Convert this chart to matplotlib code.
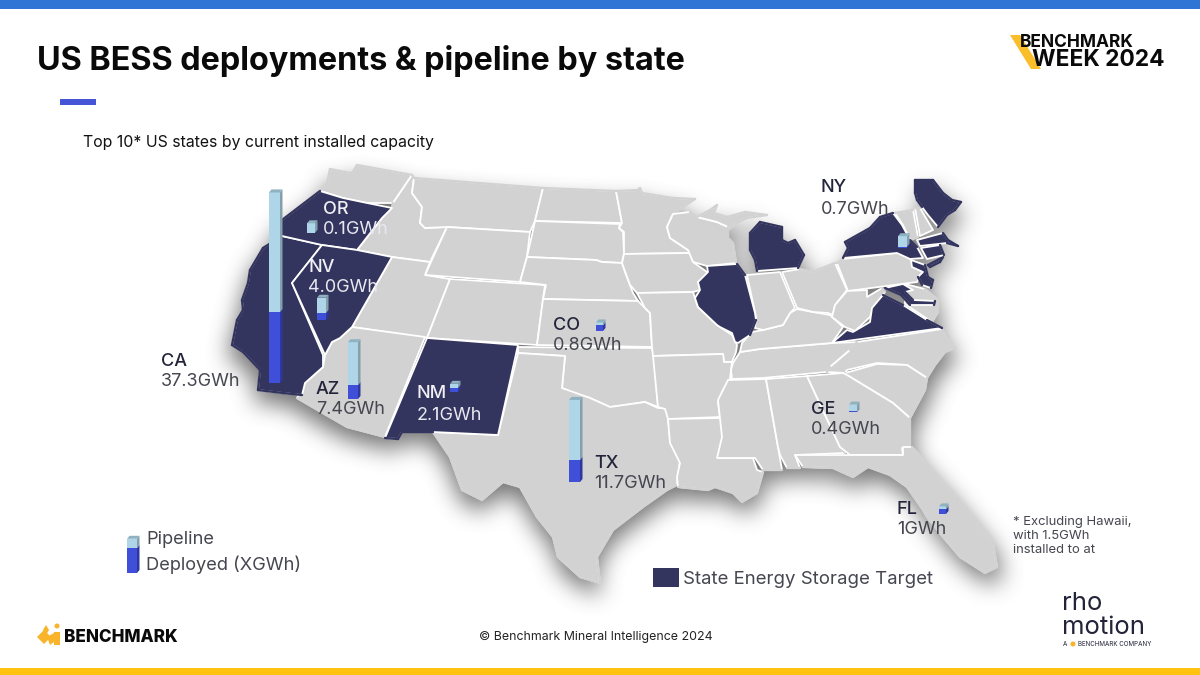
#!/usr/bin/env python3
"""US BESS deployments & pipeline by state: slide with traced map and pseudo-3D bars."""
import numpy as np
import matplotlib
matplotlib.use("Agg")
import matplotlib.pyplot as plt
from matplotlib.patches import Polygon, Rectangle, Circle
from matplotlib.path import Path

plt.rcParams["font.family"] = ["Inter", "DejaVu Sans"]

# values (GWh as drawn, tiny bars are not quite to scale in the source)
STATES = ["CA", "OR", "NV", "AZ", "NM", "CO", "TX", "NY", "GE", "FL"]
VALUE_LABELS = ["37.3GWh", "0.1GWh", "4.0GWh", "7.4GWh", "2.1GWh",
                "0.8GWh", "11.7GWh", "0.7GWh", "0.4GWh", "1GWh"]
DEPLOYED = [37.3, 0.1, 3.7, 7.4, 2.1, 3.0, 11.7, 0.7, 0.4, 2.5]
PIPELINE = [63.0, 5.0, 8.0, 22.5, 2.2, 1.5, 31.5, 5.5, 3.5, 1.5]
LEGEND_DEPLOYED = [13.2]
LEGEND_PIPELINE = [4.8]

# layout, in slide pixels
BAR_LEFT = [269, 307, 317, 348, 450, 596, 569, 898, 849, 939]
BAR_BASE = [383, 233, 320, 399, 392, 331, 482, 248, 412, 514]
BAR_WIDTH = [11, 8, 9, 10, 8, 7, 11, 9, 8, 7]
LABEL_X = [161, 323, 308, 316, 417, 553, 594, 821, 811, 897]
LABEL_Y = [361, 209, 267, 389, 394, 325, 463, 188, 409, 509]
LIGHT_LABEL = ["OR", "NV", "NM"]
PX_PER_GWH = 1.9

NAVY, GREY = "#33355e", "#d2d2d2"
PIPE_C, PIPE_SIDE, PIPE_TOP = "#aed6e8", "#84a0ac", "#8fb2c0"
DEP_C, DEP_SIDE = "#3f4fd8", "#2c389e"
INK, SOFT = "#23243a", "#45464f"

DARK_STATES = {
    "CA": [(282, 236), (322, 245), (292, 283), (323, 355), (323, 367), (305, 383), (302, 395),
           (283, 393), (258, 390), (260, 370), (243, 352), (232, 345), (237, 320), (243, 310),
           (242, 300), (248, 283), (250, 270), (263, 248)],
    "OR": [(320, 191), (343, 198), (367, 203), (392, 208), (382, 218), (357, 250), (322, 245),
           (282, 236), (270, 240), (275, 228), (282, 220)],
    "NV": [(322, 245), (357, 250), (392, 257), (352, 327), (340, 338), (332, 342), (325, 355),
           (292, 283)],
    "NM": [(427, 338), (518, 345), (498, 435), (433, 432), (402, 432), (398, 439), (385, 438)],
    "IL": [(707, 266), (737, 264), (745, 275), (755, 313), (756, 320), (750, 335), (738, 343),
           (735, 342), (732, 333), (720, 327), (717, 325), (698, 307), (695, 298), (700, 290),
           (698, 282), (708, 272)],
    "MI": [(750, 233), (760, 222), (782, 227), (782, 240), (788, 243), (795, 240), (804, 255),
           (798, 268), (757, 271), (755, 260), (750, 250)],
    "NY": [(843, 258), (848, 248), (845, 242), (870, 228), (880, 217), (893, 213), (902, 225),
           (910, 240), (917, 247), (923, 258), (910, 259), (897, 253)],
    "LI": [(928, 265), (943, 257), (940, 262), (930, 267)],
    "ME": [(915, 180), (933, 180), (943, 193), (952, 200), (961, 202), (955, 210), (947, 215),
           (938, 227), (928, 215), (922, 207), (917, 200), (915, 193)],
    "MA": [(917, 240), (943, 233), (948, 240), (958, 246), (947, 243), (920, 246)],
    "CT": [(921, 248), (940, 245), (944, 255), (927, 259)],
    "NJ": [(911, 260), (925, 265), (928, 277), (933, 280), (931, 288), (922, 285), (918, 277),
           (923, 272), (912, 267)],
    "MD": [(885, 288), (903, 284), (913, 290), (905, 292), (913, 300), (935, 301), (934, 305),
           (910, 305), (901, 295)],
    "VA": [(832, 343), (847, 330), (853, 332), (870, 322), (872, 308), (883, 295), (903, 305),
           (927, 320), (942, 328)],
}
GRAY_STATES = {
    "WA": [(320, 191), (327, 183), (330, 169), (345, 172), (352, 173), (357, 165), (412, 175),
           (393, 203), (367, 203), (343, 198)],
    "ID": [(393, 203), (412, 175), (414, 178), (412, 193), (422, 207), (420, 223), (425, 228),
           (447, 227), (430, 262), (392, 257), (357, 250), (382, 218), (392, 208)],
    "MT": [(414, 178), (543, 188), (535, 221), (530, 232), (447, 227), (425, 228), (420, 223),
           (422, 207), (412, 193)],
    "WY": [(447, 227), (530, 232), (527, 257), (520, 282), (425, 275)],
    "UT": [(392, 257), (430, 262), (425, 275), (450, 279), (427, 338), (352, 327)],
    "AZ": [(332, 342), (340, 338), (352, 327), (425, 337), (385, 437), (347, 427), (297, 398),
           (305, 383), (323, 367), (325, 355)],
    "CO": [(450, 279), (545, 285), (543, 299), (537, 345), (427, 338)],
    "ND": [(543, 188), (616, 191), (622, 223), (535, 221)],
    "SD": [(535, 221), (620, 224), (619, 228), (623, 232), (624, 253), (622, 263), (602, 262),
           (596, 260), (527, 257)],
    "NE": [(527, 257), (596, 260), (602, 262), (622, 263), (625, 272), (630, 285), (633, 293),
           (638, 301), (543, 299), (546, 285), (520, 282)],
    "KS": [(543, 299), (638, 301), (645, 308), (650, 313), (652, 347), (537, 345)],
    "OK": [(518, 347), (652, 348), (654, 357), (658, 407), (645, 402), (625, 405), (610, 407),
           (590, 398), (573, 393), (562, 388), (565, 356), (518, 353)],
    "TX": [(518, 353), (565, 356), (562, 388), (590, 398), (610, 407), (645, 402), (658, 408),
           (667, 408), (670, 440), (680, 460), (677, 485), (667, 490), (643, 507), (613, 530),
           (597, 557), (600, 583), (580, 577), (558, 557), (553, 537), (537, 517), (520, 487),
           (503, 482), (482, 500), (462, 490), (450, 457), (433, 432), (498, 435)],
    "MN": [(616, 191), (638, 190), (640, 188), (642, 193), (673, 198), (695, 199), (673, 214),
           (667, 227), (670, 238), (688, 250), (690, 253), (624, 254), (624, 232), (619, 228),
           (622, 223)],
    "IA": [(624, 254), (690, 253), (693, 262), (707, 272), (707, 278), (698, 282), (700, 290),
           (693, 292), (637, 293), (630, 285), (622, 263)],
    "MO": [(637, 293), (693, 292), (695, 298), (698, 307), (717, 325), (732, 335), (737, 345),
           (736, 352), (732, 362), (724, 362), (723, 354), (653, 356), (652, 347), (650, 313),
           (645, 308)],
    "WI": [(673, 214), (690, 212), (697, 217), (717, 222), (728, 227), (728, 238), (733, 243),
           (736, 263), (707, 266), (693, 262), (688, 250), (670, 238), (667, 227)],
    "UP": [(697, 217), (710, 210), (717, 205), (714, 213), (727, 217), (745, 212), (767, 215),
           (747, 218), (737, 223), (728, 230), (728, 227), (717, 222)],
    "AR": [(653, 356), (723, 354), (724, 362), (732, 362), (730, 379), (723, 390), (718, 402),
           (720, 417), (668, 419), (665, 409), (658, 407)],
    "LA": [(668, 419), (720, 418), (725, 433), (718, 458), (753, 458), (757, 470), (763, 472),
           (757, 493), (742, 502), (733, 493), (715, 487), (708, 490), (678, 487), (677, 477),
           (680, 463), (670, 443)],
    "MS": [(728, 380), (766, 379), (778, 447), (782, 470), (763, 470), (755, 458), (717, 458),
           (722, 437), (718, 400)],
    "AL": [(766, 379), (807, 376), (840, 447), (845, 453), (795, 455), (800, 468), (787, 468),
           (780, 455), (778, 447)],
    "TN": [(740, 352), (760, 349), (832, 343), (857, 342), (850, 350), (830, 367), (827, 372),
           (763, 378), (732, 379), (731, 370), (733, 363)],
    "KY": [(752, 332), (763, 330), (783, 325), (790, 313), (797, 309), (813, 312), (830, 315),
           (843, 327), (832, 343), (760, 349), (740, 352), (742, 343)],
    "IN": [(747, 275), (780, 272), (795, 308), (790, 313), (783, 325), (763, 330), (755, 328),
           (756, 317)],
    "OH": [(782, 272), (800, 269), (812, 272), (835, 263), (847, 290), (835, 305), (833, 315),
           (828, 313), (813, 312), (797, 308)],
    "PA": [(837, 263), (843, 259), (905, 252), (910, 260), (922, 273), (917, 282), (848, 291)],
    "WV": [(847, 291), (867, 290), (867, 297), (882, 288), (885, 292), (873, 308), (870, 317),
           (855, 331), (845, 327), (832, 317), (835, 305)],
    "DE": [(905, 284), (925, 289), (938, 300), (938, 312), (932, 322), (926, 318), (905, 304)],
    "VT": [(895, 213), (913, 210), (918, 237), (910, 240), (903, 225)],
    "NH": [(915, 208), (920, 208), (933, 230), (920, 236)],
    "NC": [(857, 342), (942, 329), (947, 338), (955, 348), (945, 352), (935, 365), (927, 378),
           (907, 365), (877, 363), (847, 370), (845, 373), (827, 372), (830, 367), (850, 350)],
    "SC": [(845, 373), (877, 364), (907, 365), (927, 378), (925, 390), (910, 418), (893, 403),
           (847, 375)],
    "GA": [(807, 376), (843, 373), (847, 375), (893, 403), (910, 418), (910, 447), (902, 448),
           (903, 455), (850, 455), (840, 447)],
    "FL": [(795, 455), (850, 455), (903, 455), (903, 447), (912, 447), (930, 467), (953, 493),
           (973, 517), (993, 543), (997, 567), (985, 573), (960, 557), (943, 537), (927, 517),
           (923, 510), (907, 487), (890, 475), (868, 467), (853, 477), (833, 468), (803, 467)],
}
ALL_STATES = list(DARK_STATES.values()) + list(GRAY_STATES.values())
ALL_PATHS = [Path(p) for p in ALL_STATES]


def blur(a, r):
    # three box passes along both axes
    k = np.ones(2 * r + 1) / (2 * r + 1)
    for _ in range(3):
        a = np.apply_along_axis(np.convolve, 0, a, k, mode="same")
        a = np.apply_along_axis(np.convolve, 1, a, k, mode="same")
    return a


def map_shadow():
    # soft drop shadow: whole map slightly enlarged, pushed down, then blurred
    gx, gy = np.meshgrid(np.arange(0, 1200, 2) + 0.5, np.arange(0, 675, 2) + 0.5)
    pts = np.column_stack([gx.ravel(), gy.ravel()])
    mask = np.zeros(len(pts), dtype=bool)
    for poly in ALL_STATES:
        p = np.array(poly, dtype=float)
        p[:, 0] = 615 + (p[:, 0] - 615) * 1.012
        p[:, 1] = p[:, 1] + 12
        mask |= Path(p).contains_points(pts)
    soft = blur(mask.reshape(gx.shape).astype(float), 5)
    rgba = np.zeros(soft.shape + (4,))
    rgba[..., :3] = 0.2
    rgba[..., 3] = soft * 0.68
    return rgba


def on_map(pt):
    return any(p.contains_point(pt) for p in ALL_PATHS)


def draw_state(poly, color, z):
    # white borders inland, no white line along the coast
    ax.add_patch(Polygon(poly, fc=color, ec="white", lw=1.3, joinstyle="round", zorder=z))
    n = len(poly)
    for i in range(n):
        a, b = np.array(poly[i], float), np.array(poly[(i + 1) % n], float)
        d = b - a
        length = np.hypot(*d)
        if length == 0:
            continue
        normal = np.array([-d[1], d[0]]) / length
        mid = (a + b) / 2
        if not (on_map(mid + 6 * normal) and on_map(mid - 6 * normal)):
            ax.plot([a[0], b[0]], [a[1], b[1]], color=color, lw=1.7,
                    solid_capstyle="round", zorder=z)


def bar3d(x, base, w, dep, pipe, z=6):
    dep_h, pipe_h = dep * PX_PER_GWH, pipe * PX_PER_GWH
    side, cap = 2.5, 3.0
    ax.bar([x], [-dep_h], bottom=[base], width=w, align="edge", color=DEP_C, zorder=z)
    ax.bar([x], [-pipe_h], bottom=[base - dep_h], width=w, align="edge", color=PIPE_C, zorder=z)
    r = x + w
    split, top = base - dep_h, base - dep_h - pipe_h
    ax.add_patch(Polygon([(r, base), (r + side, base - cap), (r + side, split - cap), (r, split)],
                         fc=DEP_SIDE, ec="none", zorder=z))
    ax.add_patch(Polygon([(r, split), (r + side, split - cap), (r + side, top - cap), (r, top)],
                         fc=PIPE_SIDE, ec="none", zorder=z))
    ax.add_patch(Polygon([(x, top), (r, top), (r + side, top - cap), (x + side, top - cap)],
                         fc=PIPE_TOP, ec="none", zorder=z))


fig = plt.figure(figsize=(12, 6.75), dpi=100)
ax = fig.add_axes([0, 0, 1, 1])
ax.set_xlim(0, 1200)
ax.set_ylim(675, 0)
ax.axis("off")

# slide furniture
ax.add_patch(Rectangle((0, 0), 1200, 9, fc="#2e75d6", ec="none"))
ax.add_patch(Rectangle((0, 668), 1200, 7, fc="#ffc20e", ec="none"))
ax.add_patch(Rectangle((60, 99), 36, 6, fc="#4655d8", ec="none"))
ax.text(37, 61, "US BESS deployments & pipeline by state", fontsize=23.3, fontweight="bold",
        color="#0a0a0a", va="center")
ax.text(83, 142, "Top 10* US states by current installed capacity", fontsize=11.4,
        color="#111111", va="center")

# map
ax.imshow(map_shadow(), extent=(0, 1200, 675, 0), aspect="auto", zorder=1, interpolation="bilinear")
ax.set_xlim(0, 1200)
ax.set_ylim(675, 0)
for poly in GRAY_STATES.values():
    draw_state(poly, GREY, 2)
for poly in DARK_STATES.values():
    draw_state(poly, NAVY, 3)

# bars and labels
for i, st in enumerate(STATES):
    bar3d(BAR_LEFT[i], BAR_BASE[i], BAR_WIDTH[i], DEPLOYED[i], PIPELINE[i])
    light = st in LIGHT_LABEL
    ax.text(LABEL_X[i], LABEL_Y[i], st, fontsize=13, fontweight="medium", va="center", zorder=7,
            color="#f0f0f5" if light else INK)
    ax.text(LABEL_X[i], LABEL_Y[i] + 21, VALUE_LABELS[i], fontsize=13, va="center", zorder=7,
            color="#e8e8f0" if light else SOFT)

# legends
bar3d(127, 573, 10, LEGEND_DEPLOYED[0], LEGEND_PIPELINE[0])
ax.text(146, 540, "Pipeline", fontsize=13.1, color=SOFT, va="center")
ax.text(146, 565, "Deployed (XGWh)", fontsize=13.1, color=SOFT, va="center")
ax.add_patch(Rectangle((653, 568), 26, 19, fc=NAVY, ec="none"))
ax.text(683, 579, "State Energy Storage Target", fontsize=13.4, color=SOFT, va="center")
ax.text(1013, 536, "* Excluding Hawaii,\nwith 1.5GWh\ninstalled to at", fontsize=9.4, color=SOFT,
        va="center", linespacing=1.2)
ax.text(596, 637, "© Benchmark Mineral Intelligence 2024", fontsize=8.9, color="#222222",
        ha="center", va="center")

# Benchmark Week logo
ax.add_patch(Polygon([(1010, 35), (1020, 35), (1041, 69), (1031, 69)], fc="#f9be2a", ec="none", zorder=2))
ax.text(1020, 42.5, "BENCHMARK", fontsize=12.5, fontweight="bold", color="#0a0a0a", va="center", zorder=3)
ax.text(1032, 60.5, "WEEK 2024", fontsize=16.4, fontweight="bold", color="#0a0a0a", va="center", zorder=3)

# Benchmark logo, footer left
ax.add_patch(Polygon([(37, 637), (44, 630), (51, 637), (44, 644)], fc="#f9b42a", ec="none"))
ax.add_patch(Polygon([(46, 625), (49, 630), (46, 635), (43, 630)], fc="#f9b42a", ec="none"))
ax.add_patch(Polygon([(47, 637), (54, 633), (54, 642), (50, 645)], fc="#f9b42a", ec="none"))
ax.add_patch(Circle((57, 626), 2.5, fc="#f9b42a", ec="none"))
ax.add_patch(Rectangle((54, 632), 6, 13, fc="#f9b42a", ec="none"))
ax.text(64, 638, "BENCHMARK", fontsize=12.3, fontweight="heavy", color="#0a0a0a", va="center")

# rho motion logo
ax.text(1062, 604, "rho", fontsize=18.5, color="#23243a", va="center")
ax.text(1062, 628, "motion", fontsize=18.5, color="#23243a", va="center")
ax.text(1063, 644, "A", fontsize=4.5, color="#23243a", va="center")
ax.add_patch(Circle((1073, 644), 2.5, fc="#f9b42a", ec="none"))
ax.text(1078, 644, "BENCHMARK COMPANY", fontsize=4.5, color="#23243a", va="center")

fig.savefig("out.png", dpi=100)
